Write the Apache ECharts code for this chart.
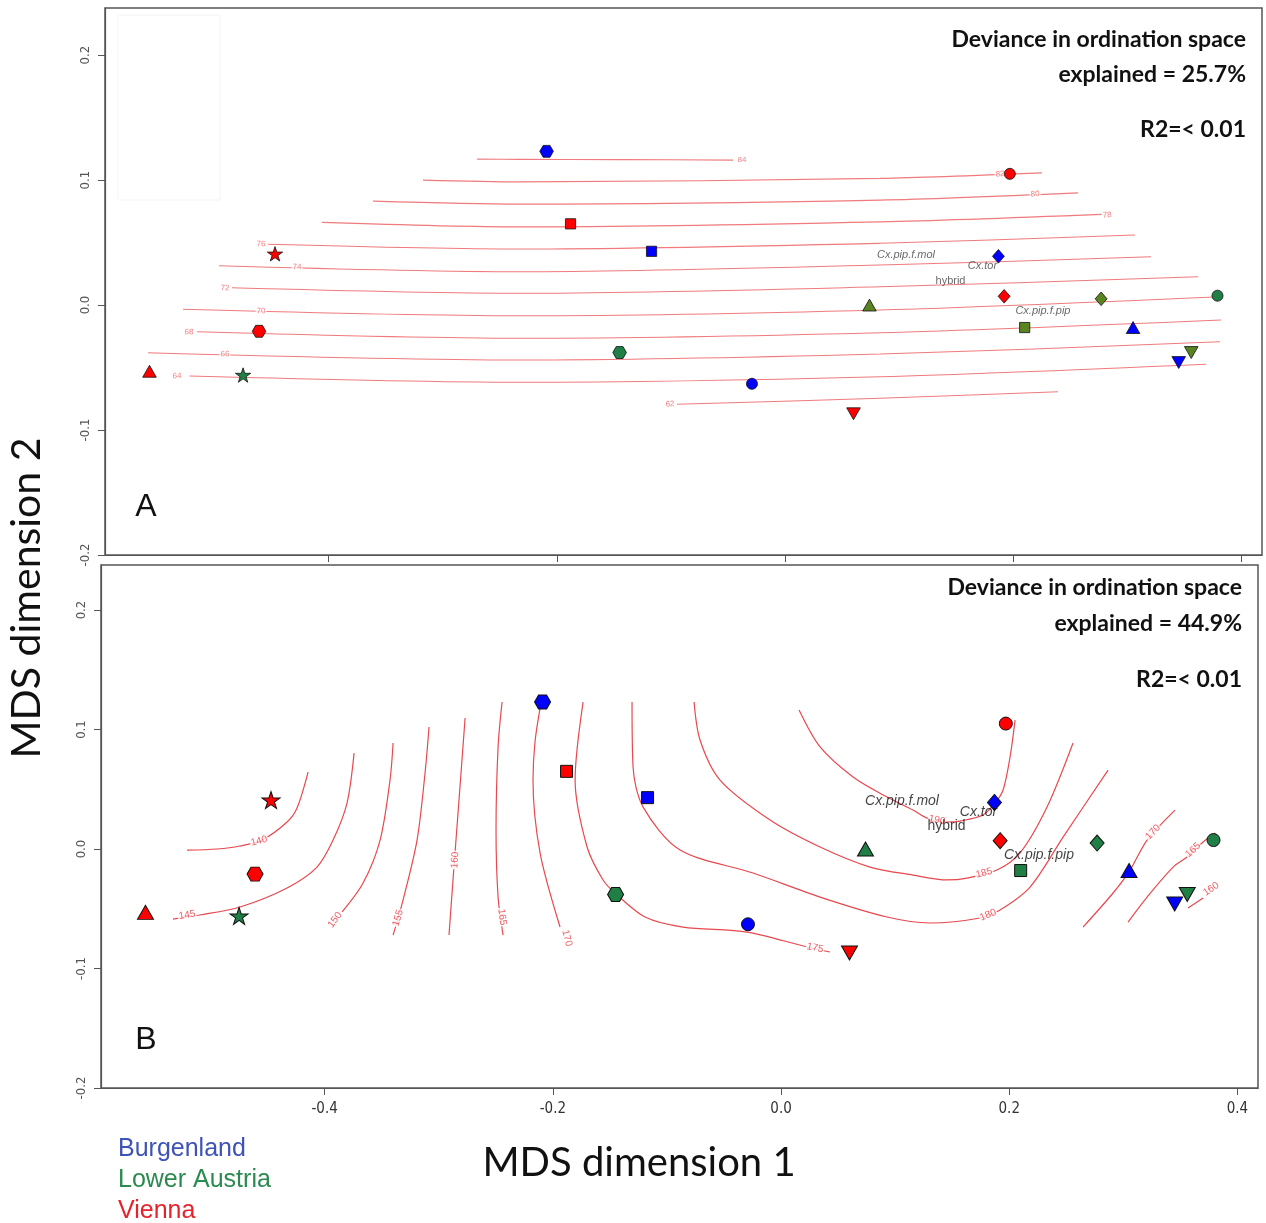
<!DOCTYPE html>
<html>
<head>
<meta charset="utf-8">
<script src="https://cdn.jsdelivr.net/npm/echarts@6/dist/echarts.min.js"></script>
<style>
  html, body { margin: 0; padding: 0; background: #fff; }
  #chart { width: 1266px; height: 1223px; }
</style>
</head>
<body>
<div id="chart"></div>
<script>
// MDS site scores (same ordination in both panels)
const siteX = [-0.557, -0.475, -0.461, -0.447, -0.209, -0.188, -0.117, -0.145, -0.029, 0.060,
               0.074, 0.197, 0.187, 0.192, 0.210, 0.277, 0.379, 0.305, 0.345, 0.356];
const siteY = [-0.053, -0.056, -0.021, 0.041, 0.123, 0.065, 0.043, -0.038, -0.063, -0.087,
               0.000, 0.105, 0.039, 0.007, -0.018, 0.005, 0.0075, -0.018, -0.046, -0.038];
const siteRegion = ['Vienna', 'Lower Austria', 'Vienna', 'Vienna', 'Burgenland', 'Vienna', 'Burgenland',
                    'Lower Austria', 'Burgenland', 'Vienna', 'Lower Austria', 'Vienna', 'Burgenland', 'Vienna',
                    'Lower Austria', 'Lower Austria', 'Lower Austria', 'Burgenland', 'Burgenland', 'Lower Austria'];
const siteShape = ['triangle', 'star', 'hexagon', 'star', 'hexagon', 'square', 'square', 'hexagon', 'circle', 'down',
                   'triangle', 'circle', 'diamond', 'diamond', 'square', 'diamond', 'circle', 'triangle', 'down', 'down'];

// species scores
const speciesNames = ['Cx.pip.f.mol', 'Cx.tor', 'hybrid', 'Cx.pip.f.pip'];
const speciesX = [0.106, 0.173, 0.145, 0.226];
const speciesY = [0.040, 0.031, 0.019, -0.005];

// panel A: ordisurf contours
const topLevels = [84, 82, 80, 78, 76, 74, 72, 70, 68, 66, 64, 62];
const topContours = [
  [[-0.2699, 0.1168], [-0.2323, 0.1166], [-0.1446, 0.1164], [-0.0456, 0.1160]],
  [[-0.3173, 0.1000], [-0.2323, 0.0986], [0.0833, 0.1014], [0.2252, 0.1058]],
  [[-0.3611, 0.0832], [-0.2323, 0.0808], [0.0833, 0.0840], [0.2568, 0.0898]],
  [[-0.4058, 0.0662], [-0.2323, 0.0626], [0.0833, 0.0666], [0.2778, 0.0726]],
  [[-0.4531, 0.0486], [-0.2323, 0.0448], [0.0833, 0.0494], [0.3067, 0.0560]],
  [[-0.4961, 0.0314], [-0.2323, 0.0266], [0.0833, 0.0320], [0.3208, 0.0386]],
  [[-0.4847, 0.0138], [-0.2323, 0.0094], [0.0833, 0.0146], [0.3620, 0.0226]],
  [[-0.5276, -0.0034], [-0.2323, -0.0086], [0.0833, -0.0040], [0.3812, 0.0066]],
  [[-0.5153, -0.0214], [-0.2323, -0.0266], [0.0833, -0.0222], [0.3821, -0.0120]],
  [[-0.5583, -0.0382], [-0.2323, -0.0440], [0.0833, -0.0392], [0.3812, -0.0294]],
  [[-0.5220, -0.0568], [-0.2323, -0.0618], [0.0833, -0.0574], [0.3690, -0.0474]],
  [[-0.0947, -0.0794], [0.0833, -0.0746], [0.2393, -0.0694]]
];
const topLabelPos = [
  [-0.0377, 0.1160], [0.1884, 0.1048], [0.2191, 0.0888], [0.2822, 0.0720], [-0.4592, 0.0488], [-0.4277, 0.0304],
  [-0.4908, 0.0136], [-0.4592, -0.0048], [-0.5223, -0.0216], [-0.4908, -0.0392], [-0.5329, -0.0568], [-0.1008, -0.0792]
];

// panel B: ordisurf contours
const bottomLevels = [140, 145, 150, 155, 160, 165, 170, 175, 180, 185, 190, 170, 165, 160];
const bottomContours = [
  [[-0.5206, -0.0010], [-0.4943, 0.0000], [-0.4741, 0.0025], [-0.4549, 0.0075], [-0.4329, 0.0226], [-0.4242, 0.0343], [-0.4145, 0.0644]],
  [[-0.5329, -0.0586], [-0.5092, -0.0552], [-0.4741, -0.0485], [-0.4329, -0.0326], [-0.4067, -0.0151], [-0.3926, 0.0075], [-0.3804, 0.0385], [-0.3742, 0.0803]],
  [[-0.3847, -0.0527], [-0.3663, -0.0285], [-0.3514, 0.0075], [-0.3427, 0.0577], [-0.3400, 0.0887]],
  [[-0.3400, -0.0720], [-0.3313, -0.0427], [-0.3190, 0.0075], [-0.3120, 0.0636], [-0.3085, 0.1021]],
  [[-0.2910, -0.0720], [-0.2875, -0.0259], [-0.2831, 0.0301], [-0.2769, 0.1096]],
  [[-0.2436, -0.0720], [-0.2480, -0.0402], [-0.2498, 0.0159], [-0.2480, 0.0854], [-0.2445, 0.1230]],
  [[-0.2110, 0.1190], [-0.2156, 0.0900], [-0.2174, 0.0577], [-0.2112, -0.0033], [-0.1937, -0.0653]],
  [[-0.1735, 0.1230], [-0.1805, 0.0577], [-0.1700, 0.0017], [-0.1560, -0.0259], [-0.1455, -0.0368], [-0.1192, -0.0569],
   [-0.0859, -0.0653], [-0.0298, -0.0695], [0.0228, -0.0820], [0.0429, -0.0862]],
  [[-0.1306, 0.1230], [-0.1297, 0.0686], [-0.1209, 0.0351], [-0.0885, -0.0008], [-0.0245, -0.0201], [0.0342, -0.0402],
   [0.0929, -0.0569], [0.1306, -0.0619], [0.1744, -0.0577], [0.1919, -0.0510], [0.2182, -0.0318], [0.2472, 0.0100], [0.2866, 0.0661]],
  [[-0.0762, 0.1230], [-0.0710, 0.0912], [-0.0535, 0.0577], [-0.0096, 0.0243], [0.0342, 0.0017], [0.0780, -0.0151],
   [0.1157, -0.0218], [0.1455, -0.0259], [0.1630, -0.0243], [0.1893, -0.0176], [0.2095, -0.0033], [0.2331, 0.0351], [0.2559, 0.0887]],
  [[0.0158, 0.1163], [0.0342, 0.0854], [0.0631, 0.0603], [0.0929, 0.0435], [0.1157, 0.0326], [0.1280, 0.0259], [0.1455, 0.0226],
   [0.1569, 0.0234], [0.1770, 0.0285], [0.1876, 0.0385], [0.1946, 0.0494], [0.2007, 0.0770], [0.2051, 0.1079]],
  [[0.2647, -0.0653], [0.2910, -0.0368], [0.3059, -0.0176], [0.3208, 0.0075], [0.3453, 0.0326]],
  [[0.3041, -0.0611], [0.3208, -0.0402], [0.3436, -0.0151], [0.3558, -0.0067], [0.3699, 0.0059], [0.3804, 0.0134]],
  [[0.3567, -0.0494], [0.3699, -0.0410]]
];
const bottomLabelPos = [
  [-0.4575, 0.0067], [-0.5206, -0.0552], [-0.3909, -0.0594], [-0.3357, -0.0577], [-0.2857, -0.0092], [-0.2445, -0.0569],
  [-0.1876, -0.0745], [0.0298, -0.0828], [0.1814, -0.0552], [0.1779, -0.0201], [0.1367, 0.0243], [0.3260, 0.0142],
  [0.3611, -0.0008], [0.3769, -0.0335]
];

const panelStats = [
  ['Deviance in ordination space', 'explained = 25.7%', 'R2=< 0.01'],
  ['Deviance in ordination space', 'explained = 44.9%', 'R2=< 0.01']
];
const xTicks = [-0.4, -0.2, 0, 0.2, 0.4];
const yTicks = [-0.2, -0.1, 0, 0.1, 0.2];
const regions = ['Burgenland', 'Lower Austria', 'Vienna'];

const X_MIN = -0.596, X_MAX = 0.418, Y_MIN = -0.2, Y_MAX = 0.2377;
const REGION_COLORS = { 'Burgenland': '#0000ff', 'Lower Austria': '#1f7f45', 'Vienna': '#ff0000' };
const LEGEND_COLORS = { 'Burgenland': '#3f52b6', 'Lower Austria': '#2b8a4f', 'Vienna': '#e8222c' };
const OLIVE = '#5a8420';
const NARROW = '"Liberation Sans Narrow", "DejaVu Sans Condensed", sans-serif';

const SYMBOLS = {
  triangle: { symbol: 'triangle', rotate: 0, size: [16, 14] },
  down: { symbol: 'triangle', rotate: 180, size: [16, 14] },
  circle: { symbol: 'circle', size: 13 },
  square: { symbol: 'rect', size: 12 },
  diamond: { symbol: 'diamond', size: [14, 16] },
  hexagon: { symbol: 'path://M25,0 L75,0 L100,43.3 L75,86.6 L25,86.6 L0,43.3 Z', size: [16, 14] },
  star: { symbol: 'path://M50,0 L61.2,34.5 L97.6,34.5 L68.2,55.9 L79.4,90.5 L50,69.1 L20.6,90.5 L31.8,55.9 L2.4,34.5 L38.8,34.5 Z', size: [18, 17] }
};

const chart = echarts.init(document.getElementById('chart'), null, { renderer: 'canvas' });

function siteItems(panel) {
  const k = panel === 0 ? 0.85 : 1;
  return siteX.map((x, i) => {
    const s = SYMBOLS[siteShape[i]];
    let color = REGION_COLORS[siteRegion[i]];
    if (panel === 0 && siteRegion[i] === 'Lower Austria' && ['triangle', 'down', 'square', 'diamond'].includes(siteShape[i])) {
      color = OLIVE;
    }
    const size = Array.isArray(s.size) ? s.size.map(v => v * k) : s.size * k;
    return {
      value: [x, siteY[i]],
      symbol: s.symbol,
      symbolRotate: s.rotate || 0,
      symbolSize: size,
      itemStyle: { color: color, opacity: 1, borderColor: '#111', borderWidth: panel ? 1 : 0.8 }
    };
  });
}

function contourSeries(panel, lines, color, width) {
  return lines.map(pts => ({
    type: 'line', xAxisIndex: panel, yAxisIndex: panel, data: pts,
    symbol: 'none', showSymbol: false, smooth: 0.3, silent: true, z: 2,
    lineStyle: { color: color, width: width }
  }));
}

function labelSeries(panel, pos, levels, angles, fontSize, color) {
  return {
    id: 'labels' + panel,
    type: 'scatter', xAxisIndex: panel, yAxisIndex: panel, symbolSize: 1, silent: true, z: 3,
    itemStyle: { color: 'rgba(0,0,0,0)' },
    label: {
      show: true, position: 'inside', formatter: '{b}', color: color, fontSize: fontSize,
      fontFamily: 'Liberation Sans, sans-serif', backgroundColor: '#fff', padding: [0, 1]
    },
    data: pos.map((p, i) => ({ value: p, name: String(levels[i]), label: { rotate: angles ? angles[i] : 0 } }))
  };
}

function speciesSeries(panel) {
  return {
    type: 'scatter', xAxisIndex: panel, yAxisIndex: panel, symbolSize: 1, silent: true, z: 6,
    itemStyle: { color: 'rgba(0,0,0,0)' },
    label: {
      show: true, position: 'inside', formatter: '{b}',
      color: panel ? '#111' : '#444', fontSize: panel ? 14 : 11, fontFamily: 'Liberation Sans, Arial, sans-serif'
    },
    data: speciesNames.map((n, i) => ({
      name: n, value: [speciesX[i], speciesY[i]],
      label: { fontStyle: n.indexOf('Cx') === 0 ? 'italic' : 'normal' }
    }))
  };
}

function xAxis(panel) {
  return {
    type: 'value', gridIndex: panel, min: X_MIN, max: X_MAX,
    axisLine: { show: true, onZero: false, lineStyle: { color: '#555', width: 1.2 } },
    axisTick: { show: true, length: 7, customValues: xTicks, lineStyle: { color: '#555' } },
    axisLabel: {
      show: panel === 1, customValues: xTicks, margin: 14, fontSize: 15, color: '#333', fontFamily: NARROW,
      formatter: v => v.toFixed(1)
    },
    splitLine: { show: false }
  };
}

function yAxis(panel) {
  return {
    type: 'value', gridIndex: panel, min: Y_MIN, max: Y_MAX,
    axisLine: { show: true, onZero: false, lineStyle: { color: '#555', width: 1.2 } },
    axisTick: { show: true, length: 7, customValues: yTicks, lineStyle: { color: '#555' } },
    axisLabel: {
      show: true, customValues: yTicks, rotate: 90, margin: 13, fontSize: 13, color: '#555', fontFamily: NARROW,
      formatter: v => v.toFixed(1)
    },
    splitLine: { show: false }
  };
}

function statsText(lines, right, ys) {
  return lines.map((t, i) => ({
    type: 'text', x: right, y: ys[i], z: 10,
    style: {
      text: t, fill: '#111', font: 'bold 23px Lato, "Open Sans", sans-serif',
      textAlign: 'right', textVerticalAlign: 'middle', align: 'right', verticalAlign: 'middle'
    }
  }));
}

function textEl(t, x, y, font, fill, rotation) {
  return {
    type: 'text', x: x, y: y, rotation: rotation || 0, z: 10,
    style: {
      text: t, fill: fill, font: font,
      textAlign: 'center', textVerticalAlign: 'middle', align: 'center', verticalAlign: 'middle'
    }
  };
}

function buildSeries(topAngles, bottomAngles) {
  return [].concat(
    contourSeries(0, topContours, '#f07a7c', 1.1),
    contourSeries(1, bottomContours, '#e8484e', 1.2),
    [labelSeries(0, topLabelPos, topLevels, topAngles, 8, '#ef6266'),
     labelSeries(1, bottomLabelPos, bottomLevels, bottomAngles, 10, '#e8363d'),
     { type: 'scatter', xAxisIndex: 0, yAxisIndex: 0, z: 5, silent: true, data: siteItems(0) },
     { type: 'scatter', xAxisIndex: 1, yAxisIndex: 1, z: 5, silent: true, data: siteItems(1) },
     speciesSeries(0), speciesSeries(1)]
  );
}

const graphics = [].concat(
  [{ type: 'rect', shape: { x: 118, y: 15, width: 102, height: 185 }, style: { fill: 'none', stroke: '#f4f4f4', lineWidth: 1 } }],
  statsText(panelStats[0], 1246, [40, 75, 130]),
  statsText(panelStats[1], 1242, [588, 624, 680]),
  [textEl('A', 146, 507, '32px "Liberation Sans", Arial, sans-serif', '#111'),
   textEl('B', 146, 1040, '32px "Liberation Sans", Arial, sans-serif', '#111'),
   textEl('MDS dimension 2', 27, 598, '41px Lato, "Open Sans", sans-serif', '#111', Math.PI / 2),
   textEl('MDS dimension 1', 639, 1163, '40px Lato, "Open Sans", sans-serif', '#111')],
  regions.map((r, i) => ({
    type: 'text', x: 118, y: 1149 + i * 31, z: 10,
    style: {
      text: r, fill: LEGEND_COLORS[r], font: '25px "Liberation Sans", Arial, sans-serif',
      textAlign: 'left', textVerticalAlign: 'middle', align: 'left', verticalAlign: 'middle'
    }
  }))
);

const option = {
  animation: false,
  backgroundColor: '#fff',
  grid: [
    { left: 105, top: 8, width: 1157, height: 547, show: true, borderColor: '#555', borderWidth: 1.5, backgroundColor: 'transparent' },
    { left: 101, top: 565, width: 1157, height: 523, show: true, borderColor: '#555', borderWidth: 1.5, backgroundColor: 'transparent' }
  ],
  xAxis: [xAxis(0), xAxis(1)],
  yAxis: [yAxis(0), yAxis(1)],
  graphic: graphics,
  series: buildSeries(null, null)
};
chart.setOption(option);

// align contour labels with the direction of their line (pixel space)
function labelAngles(panel, lines, pos) {
  return pos.map((p, i) => {
    const pts = lines[i].map(q => chart.convertToPixel({ gridIndex: panel }, q));
    const pp = chart.convertToPixel({ gridIndex: panel }, p);
    let best = null, bestD = Infinity;
    for (let j = 0; j < pts.length - 1; j++) {
      const a = pts[j], b = pts[j + 1];
      const dx = b[0] - a[0], dy = b[1] - a[1];
      const len2 = dx * dx + dy * dy || 1;
      let t = ((pp[0] - a[0]) * dx + (pp[1] - a[1]) * dy) / len2;
      t = Math.max(0, Math.min(1, t));
      const cx = a[0] + t * dx, cy = a[1] + t * dy;
      const d = (pp[0] - cx) ** 2 + (pp[1] - cy) ** 2;
      if (d < bestD) { bestD = d; best = [dx, dy]; }
    }
    let ang = Math.atan2(-best[1], best[0]) * 180 / Math.PI;
    if (ang > 90) ang -= 180;
    if (ang < -90) ang += 180;
    return Math.round(ang);
  });
}

chart.setOption({
  series: buildSeries(labelAngles(0, topContours, topLabelPos), labelAngles(1, bottomContours, bottomLabelPos))
});
</script>
</body>
</html>
